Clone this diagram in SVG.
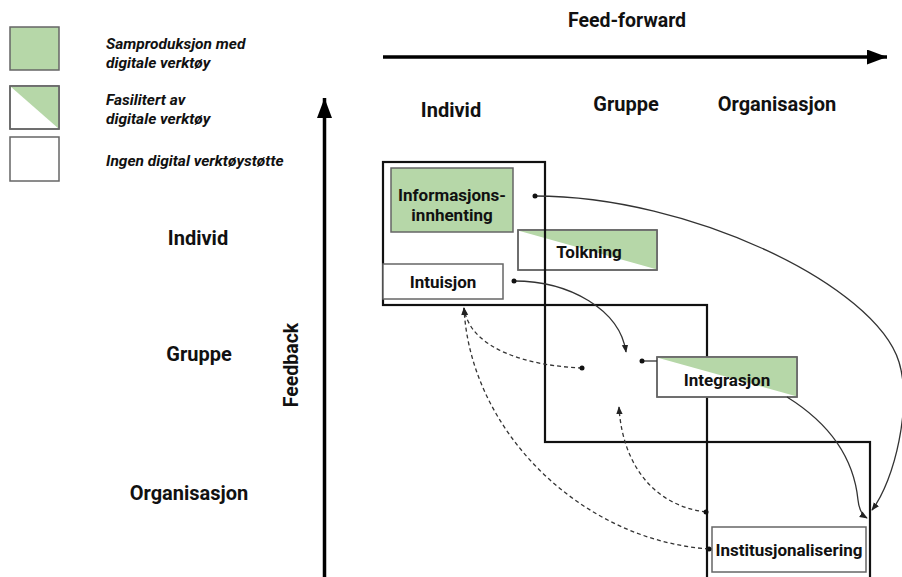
<svg xmlns="http://www.w3.org/2000/svg" width="902" height="577" viewBox="0 0 902 577">
  <style>
    .bg { fill: #ffffff; }
    .lbl { font-family: Roboto, "Liberation Sans", sans-serif; font-weight: bold; fill: #111; }
    .head { font-size: 20px; }
    .legend { font-family: Roboto, "Liberation Sans", sans-serif; font-weight: bold; font-style: italic; font-size: 15.5px; fill: #111; }
    .node-text { font-family: Roboto, "Liberation Sans", sans-serif; font-weight: bold; font-size: 17px; fill: #111; text-anchor: middle; }
    .box { fill: #ffffff; stroke: #666; stroke-width: 1.5; }
    .green { fill: #b6d7a8; }
    .frame { fill: none; stroke: #111; stroke-width: 2.2; }
    .axis { stroke: #000; stroke-width: 3.5; fill: none; }
    .link { fill: none; stroke: #333; stroke-width: 1.3; }
    .dash { stroke-dasharray: 4 3; }
    .dot { fill: #111; }
  </style>
  <defs>
    <marker id="axisHead" viewBox="0 0 20 15" refX="20" refY="7.5" markerWidth="21" markerHeight="15" markerUnits="userSpaceOnUse" orient="auto">
      <path d="M0,0 L20,7.5 L0,15 Z" fill="#000"/>
    </marker>
    <marker id="arrow" viewBox="0 0 10 10" refX="9" refY="5" markerWidth="8" markerHeight="8" markerUnits="userSpaceOnUse" orient="auto">
      <path d="M0,1 L10,5 L0,9 Z" fill="#222"/>
    </marker>
  </defs>

  <rect class="bg" x="0" y="0" width="902" height="577"/>

  <!-- legend -->
  <g id="legend">
    <rect class="box green" x="10" y="27" width="49" height="43"/>
    <rect class="box" x="10" y="86" width="49" height="43"/>
    <polygon class="green" points="10.8,86.8 58.2,86.8 58.2,128.2"/>
    <rect x="10" y="86" width="49" height="43" fill="none" stroke="#666" stroke-width="1.5"/>
    <rect class="box" x="10" y="137" width="49" height="44"/>
    <text class="legend" x="106" y="49">Samproduksjon med</text>
    <text class="legend" x="106" y="68">digitale verktøy</text>
    <text class="legend" x="106" y="105">Fasilitert av</text>
    <text class="legend" x="106" y="124">digitale verktøy</text>
    <text class="legend" x="106" y="166">Ingen digital verktøystøtte</text>
  </g>

  <!-- axes -->
  <g id="axes">
    <line class="axis" x1="383" y1="57" x2="887" y2="57" marker-end="url(#axisHead)"/>
    <text class="lbl" x="627" y="27" font-size="19.5" text-anchor="middle">Feed-forward</text>
    <line class="axis" x1="324.5" y1="577" x2="324.5" y2="98" marker-end="url(#axisHead)"/>
    <text class="lbl" x="298" y="365" font-size="19.5" text-anchor="middle" transform="rotate(-90 298 365)">Feedback</text>
  </g>

  <!-- level headings -->
  <g id="headings">
    <text class="lbl head" x="451" y="117" text-anchor="middle">Individ</text>
    <text class="lbl head" x="626" y="111" text-anchor="middle">Gruppe</text>
    <text class="lbl head" x="777" y="111" text-anchor="middle">Organisasjon</text>
    <text class="lbl head" x="198" y="245" text-anchor="middle">Individ</text>
    <text class="lbl head" x="199" y="361" text-anchor="middle">Gruppe</text>
    <text class="lbl head" x="189" y="500" text-anchor="middle">Organisasjon</text>
  </g>

  <!-- Tolkning sits under the level frames -->
  <g id="tolkning">
    <rect class="box" x="518" y="230" width="139" height="40"/>
    <polygon class="green" points="518.8,230.8 656.2,230.8 656.2,269.2"/>
    <rect x="518" y="230" width="139" height="40" fill="none" stroke="#666" stroke-width="1.5"/>
    <text class="node-text" x="589" y="258">Tolkning</text>
  </g>

  <!-- level frames -->
  <g id="frames">
    <rect class="frame" x="383" y="162" width="162" height="143"/>
    <rect class="frame" x="545" y="305" width="162" height="137"/>
    <rect class="frame" x="707" y="442" width="163" height="145"/>
  </g>

  <g id="informasjonsinnhenting">
    <rect class="box green" x="391" y="168" width="122" height="64"/>
    <text class="node-text" x="452" y="201">Informasjons-</text>
    <text class="node-text" x="452" y="221">innhenting</text>
  </g>

  <g id="intuisjon">
    <rect class="box" x="383" y="264" width="120" height="35"/>
    <text class="node-text" x="443" y="288">Intuisjon</text>
  </g>

  <g id="integrasjon">
    <rect class="box" x="657" y="357" width="140" height="40"/>
    <polygon class="green" points="657.8,357.8 796.2,357.8 796.2,396.2"/>
    <rect x="657" y="357" width="140" height="40" fill="none" stroke="#666" stroke-width="1.5"/>
    <text class="node-text" x="727" y="386">Integrasjon</text>
  </g>

  <g id="institusjonalisering">
    <rect class="box" x="712" y="527" width="154" height="45"/>
    <text class="node-text" x="789" y="556">Institusjonalisering</text>
  </g>

  <!-- connectors -->
  <g id="connectors">
    <path class="link" d="M535,196 C690,196 875,285 899,362 C912,405 895,480 872,510" marker-end="url(#arrow)"/>
    <circle class="dot" cx="535" cy="196" r="2.5"/>

    <path class="link" d="M514,281 C570,281 620,310 626,352" marker-end="url(#arrow)"/>
    <circle class="dot" cx="514" cy="281" r="2.5"/>

    <line class="link" x1="642" y1="361" x2="657" y2="361"/>
    <circle class="dot" cx="642" cy="361" r="2.5"/>

    <path class="link" d="M787,397 C840,430 855,470 858,500 C859,510 862,515 867,518" marker-end="url(#arrow)"/>

    <path class="link dash" d="M582,368 C530,366 470,350 464,308" marker-end="url(#arrow)"/>
    <circle class="dot" cx="582" cy="368" r="2.5"/>

    <path class="link dash" d="M709,549 C580,540 470,430 464,308" marker-end="url(#arrow)"/>
    <circle class="dot" cx="709" cy="549" r="2.5"/>

    <path class="link dash" d="M706,512 C650,505 622,460 619,407" marker-end="url(#arrow)"/>
    <circle class="dot" cx="706" cy="512" r="2.5"/>
  </g>
</svg>
